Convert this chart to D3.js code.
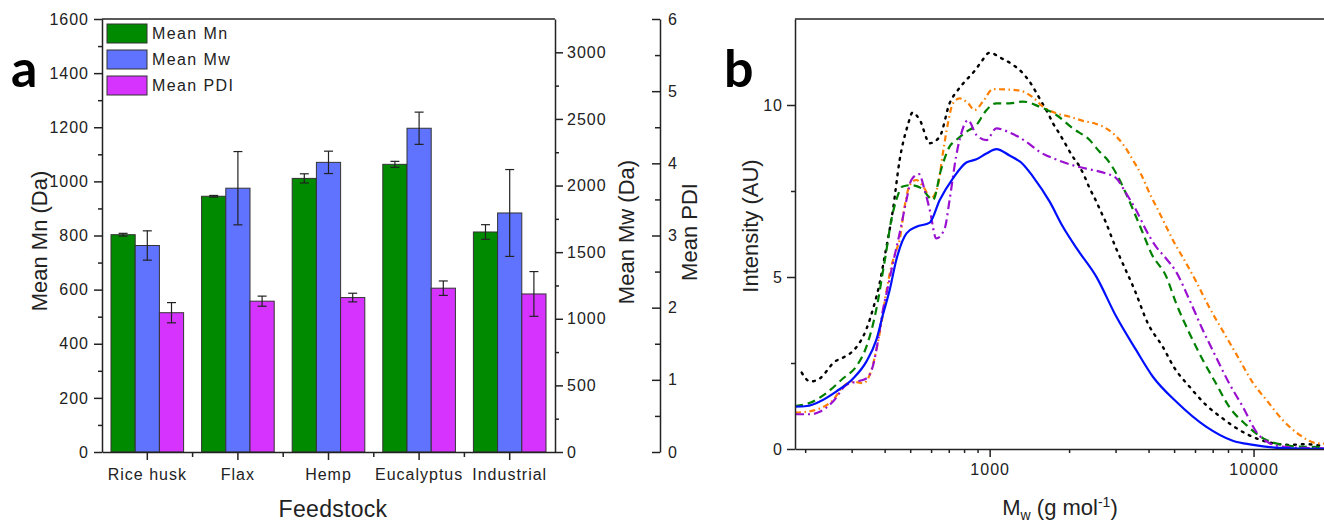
<!DOCTYPE html>
<html>
<head>
<meta charset="utf-8">
<script src="https://cdn.jsdelivr.net/npm/d3@7"></script>
<style>
  body { margin: 0; background: #fff; }
  text { font-family: "Liberation Sans", Arial, sans-serif; fill: #222; }
  .axis path, .axis line { stroke: #222; stroke-width: 1.5; }
  .axis text { font-size: 16px; letter-spacing: 1px; }
</style>
</head>
<body>
<script>
// ---- panel a data ----
const feedstocks = ["Rice husk", "Flax", "Hemp", "Eucalyptus", "Industrial"];
const mnMean = [803, 945, 1011, 1063, 813];
const mnErr = [5, 3, 17, 11, 27];
const mwMean = [1550, 1980, 2174, 2430, 1794];
const mwErr = [110, 275, 84, 121, 326];
const pdiMean = [1.93, 2.09, 2.14, 2.27, 2.19];
const pdiErr = [0.14, 0.07, 0.06, 0.10, 0.31];
const legendLabels = ["Mean Mn", "Mean Mw", "Mean PDI"];
const barColors = ["#008a00", "#5f73ff", "#d633ff"];

const mnTicks = [0, 200, 400, 600, 800, 1000, 1200, 1400, 1600];
const mwTicks = [0, 500, 1000, 1500, 2000, 2500, 3000];
const pdiTicks = [0, 1, 2, 3, 4, 5, 6];

// ---- panel b data: [Mw (g/mol), intensity] ----
const blueSolid = [[183,1.23],[203,1.25],[227,1.38],[262,1.67],[304,2.05],[341,2.54],[372,3.17],[394,3.9],[418,4.62],[443,5.5],[484,6.27],[528,6.46],[593,6.58],[647,7.24],[726,7.87],[816,8.33],[891,8.42],[972,8.59],[1060,8.72],[1190,8.53],[1337,8.28],[1459,7.92],[1688,7.19],[1895,6.46],[2160,5.78],[2535,5.01],[3018,3.85],[3587,2.88],[4155,2.10],[5087,1.38],[6605,0.65],[8340,0.24],[9970,0.12],[12000,0.04],[15000,0.01],[20000,0]];
const blackDotted = [[194,2.22],[209,1.96],[227,2.05],[259,2.54],[282,2.68],[308,2.90],[341,3.48],[362,4.09],[384,4.86],[400,5.59],[430,6.95],[456,8.40],[490,9.42],[510,9.78],[544,9.56],[593,8.89],[647,9.08],[705,10.05],[759,10.44],[816,10.73],[877,10.99],[930,11.26],[1000,11.52],[1107,11.36],[1208,11.2],[1318,10.97],[1417,10.68],[1494,10.39],[1570,10.10],[1664,9.76],[1737,9.47],[1841,9.16],[1939,8.86],[2052,8.53],[2180,8.24],[2290,7.92],[2392,7.58],[2520,7.24],[2632,6.92],[2748,6.61],[2977,5.93],[3107,5.6],[3543,4.62],[3978,3.65],[4529,2.97],[5020,2.35],[5722,1.81],[6605,1.28],[7635,0.89],[8850,0.55],[10240,0.31],[11850,0.17],[13700,0.12],[15840,0.14],[18000,0.1],[20000,0.08]];
const orangeDashDot = [[183,1.06],[210,1.10],[227,1.18],[255,1.42],[278,1.81],[304,1.96],[331,1.91],[355,2.25],[372,2.88],[389,3.65],[407,4.62],[424,5.30],[443,5.78],[456,6.08],[476,7.04],[498,7.67],[528,7.82],[560,7.63],[601,7.29],[637,7.67],[665,8.60],[695,9.47],[726,10.05],[770,10.19],[828,10.05],[877,9.85],[943,10.10],[1029,10.46],[1157,10.45],[1299,10.42],[1459,10.22],[1592,9.95],[1789,9.76],[2010,9.66],[2256,9.54],[2535,9.45],[2764,9.32],[2977,9.13],[3250,8.79],[3490,8.40],[3755,7.97],[4038,7.43],[4344,6.95],[4670,6.46],[5022,5.98],[5367,5.6],[6066,4.86],[6770,4.14],[7880,3.26],[8850,2.59],[9970,1.91],[11200,1.42],[12900,0.84],[14940,0.41],[17300,0.17],[20000,0.15]];
const greenDashed = [[183,1.25],[210,1.35],[240,1.62],[278,2.05],[313,2.41],[341,2.97],[362,3.65],[378,4.33],[393,5.11],[403,5.6],[424,6.66],[443,7.24],[468,7.63],[505,7.67],[551,7.58],[610,7.24],[654,8.11],[705,8.79],[746,8.98],[816,9.22],[891,9.42],[972,9.85],[1060,10.05],[1190,10.05],[1337,10.10],[1546,9.95],[1789,9.71],[2067,9.32],[2393,8.98],[2610,8.64],[2764,8.45],[3018,8.01],[3240,7.53],[3543,6.85],[3810,6.27],[4096,5.69],[4670,5.01],[5087,4.24],[5720,3.36],[6422,2.59],[7200,1.91],[8080,1.23],[9380,0.70],[10880,0.31],[12900,0.12],[14940,0.07],[20000,0.05]];
const purpleDashDot = [[183,1.01],[210,1.01],[227,1.08],[255,1.38],[286,1.86],[313,1.96],[341,2.05],[362,2.44],[378,3.17],[394,4.04],[407,4.53],[430,5.40],[456,6.27],[484,7.24],[505,7.82],[540,7.99],[567,7.53],[593,6.95],[628,6.12],[676,6.42],[705,7.24],[746,8.50],[781,9.18],[828,9.56],[891,9.13],[972,8.98],[1060,9.32],[1190,9.20],[1378,8.93],[1546,8.64],[1841,8.38],[2150,8.21],[2460,8.11],[2764,8.01],[3018,7.87],[3290,7.43],[3587,6.95],[3910,6.37],[4270,5.88],[4600,5.59],[5087,5.15],[5720,4.33],[6422,3.46],[7200,2.68],[8080,1.91],[9100,1.23],[10240,0.50],[11500,0.17],[12900,0.07],[15840,0.03],[20000,0.02]];

const intensityTicks = [0, 5, 10];
const mwLogTicks = [1000, 10000];

const svg = d3.select("body").append("svg")
  .attr("width", 1324).attr("height", 526);

// ================= panel a =================
const A = { left: 102, right: 555, top: 19, bottom: 452 };

const x = d3.scaleBand().domain(feedstocks).range([A.left, A.right]);
const x1 = d3.scaleBand().domain([0, 1, 2]).range([9, x.bandwidth() - 9]);
const yMn = d3.scaleLinear().domain([0, 1600]).range([A.bottom, A.top]);
const yMw = d3.scaleLinear().domain([0, 3250]).range([A.bottom, A.top]);
const yPdi = d3.scaleLinear().domain([0, 6]).range([A.bottom, A.top]);
const intFmt = d3.format("d");

const series = [
  { mean: mnMean, err: mnErr, y: yMn },
  { mean: mwMean, err: mwErr, y: yMw },
  { mean: pdiMean, err: pdiErr, y: yPdi }
];

const ga = svg.append("g");

series.forEach((s, k) => {
  ga.append("g").selectAll("rect")
    .data(feedstocks).enter()
    .append("rect")
    .attr("x", d => x(d) + x1(k))
    .attr("y", (d, i) => s.y(s.mean[i]))
    .attr("width", x1.bandwidth())
    .attr("height", (d, i) => A.bottom - s.y(s.mean[i]))
    .attr("fill", barColors[k])
    .attr("stroke", "#333").attr("stroke-width", 1);
});

// error bars
series.forEach((s, k) => {
  const g = ga.append("g").attr("stroke", "#222").attr("stroke-width", 1.2);
  feedstocks.forEach((d, i) => {
    const cx = x(d) + x1(k) + x1.bandwidth() / 2;
    const hi = s.y(s.mean[i] + s.err[i]), lo = s.y(s.mean[i] - s.err[i]);
    g.append("line").attr("x1", cx).attr("x2", cx).attr("y1", hi).attr("y2", lo);
    g.append("line").attr("x1", cx - 4.5).attr("x2", cx + 4.5).attr("y1", hi).attr("y2", hi);
    g.append("line").attr("x1", cx - 4.5).attr("x2", cx + 4.5).attr("y1", lo).attr("y2", lo);
  });
});

// top border
ga.append("line").attr("x1", A.left).attr("x2", A.right).attr("y1", A.top).attr("y2", A.top)
  .attr("stroke", "#222").attr("stroke-width", 1.5);

// left Mn axis
ga.append("g").attr("class", "axis").attr("transform", `translate(${A.left},0)`)
  .call(d3.axisLeft(yMn).tickValues(d3.range(100, 1600, 200)).tickSize(4).tickFormat(""))
  .call(g => g.select(".domain").remove());
ga.append("g").attr("class", "axis").attr("transform", `translate(${A.left},0)`)
  .call(d3.axisLeft(yMn).tickValues(mnTicks).tickSize(8).tickSizeOuter(0).tickPadding(5).tickFormat(intFmt));

// bottom category axis
ga.append("g").attr("class", "axis").attr("transform", `translate(0,${A.bottom})`)
  .call(d3.axisBottom(x).tickSize(8).tickSizeOuter(0).tickPadding(9));
ga.append("g").attr("stroke", "#222").attr("stroke-width", 1.5)
  .selectAll("line").data(feedstocks.slice(1)).enter().append("line")
  .attr("x1", d => x(d)).attr("x2", d => x(d))
  .attr("y1", A.bottom).attr("y2", A.bottom + 5);

// Mw right axis
ga.append("g").attr("class", "axis").attr("transform", `translate(${A.right},0)`)
  .call(d3.axisRight(yMw).tickValues(d3.range(250, 3250, 500)).tickSize(4).tickFormat(""))
  .call(g => g.select(".domain").remove());
ga.append("g").attr("class", "axis").attr("transform", `translate(${A.right},0)`)
  .call(d3.axisRight(yMw).tickValues(mwTicks).tickSize(8).tickSizeOuter(0).tickPadding(4).tickFormat(intFmt));

// PDI axis (ticks pointing left, labels right)
ga.append("g").attr("class", "axis").attr("transform", "translate(660,0)")
  .call(d3.axisRight(yPdi).tickValues(d3.range(0.5, 6, 1)).tickSize(-5).tickFormat(""))
  .call(g => g.select(".domain").remove());
ga.append("g").attr("class", "axis").attr("transform", "translate(660,0)")
  .call(d3.axisRight(yPdi).tickValues(pdiTicks).tickSize(-8).tickSizeOuter(0).tickPadding(8).tickFormat(intFmt));

// legend
const leg = ga.append("g").attr("transform", "translate(107,24)");
legendLabels.forEach((t, k) => {
  leg.append("rect").attr("x", 0).attr("y", k * 26).attr("width", 40).attr("height", 19)
    .attr("fill", barColors[k]).attr("stroke", "#333").attr("stroke-width", 1);
  leg.append("text").attr("x", 45).attr("y", k * 26 + 15)
    .style("font-size", "16px").style("letter-spacing", "1.4px").text(t);
});

// titles
ga.append("text").attr("transform", "translate(47,241) rotate(-90)")
  .attr("text-anchor", "middle").style("font-size", "22px")
  .text("Mean Mn (Da)");
ga.append("text").attr("x", 333).attr("y", 517)
  .attr("text-anchor", "middle").style("font-size", "23px").style("letter-spacing", "0.3px")
  .text("Feedstock");
ga.append("text").attr("transform", "translate(634,232) rotate(-90)")
  .attr("text-anchor", "middle").style("font-size", "22px")
  .text("Mean Mw (Da)");
ga.append("text").attr("transform", "translate(697,232) rotate(-90)")
  .attr("text-anchor", "middle").style("font-size", "22px")
  .text("Mean PDI");
ga.append("text").attr("x", 11).attr("y", 87)
  .style("font-family", "Lato, 'Open Sans', sans-serif").style("font-weight", "bold")
  .style("font-size", "52px").style("fill", "#000").text("a");

// ================= panel b =================
const B = { left: 795, right: 1324, top: 19, bottom: 449 };
const xb = d3.scaleLog().domain([183, 20000]).range([B.left, 1333]);
const yb = d3.scaleLinear().domain([0, 12.5]).range([B.bottom, B.top]);

const gb = svg.append("g");
gb.append("clipPath").attr("id", "clipb").append("rect")
  .attr("x", B.left).attr("y", B.top).attr("width", B.right - B.left).attr("height", B.bottom - B.top);

const line = d3.line().x(d => xb(d[0])).y(d => yb(d[1])).curve(d3.curveMonotoneX);

const curves = [
  { data: blackDotted, color: "#000", dash: "1.8,6", cap: "round", w: 2.4 },
  { data: orangeDashDot, color: "#ff7f00", dash: "6,3.5,1.5,3.5", cap: "butt", w: 2.2 },
  { data: greenDashed, color: "#008000", dash: "8,5", cap: "butt", w: 2.2 },
  { data: purpleDashDot, color: "#9a10d0", dash: "9,4,2,4", cap: "butt", w: 2.2 },
  { data: blueSolid, color: "#0010ff", dash: null, cap: "butt", w: 2.2 }
];
gb.append("g").attr("clip-path", "url(#clipb)")
  .selectAll("path").data(curves).enter().append("path")
  .attr("d", d => line(d.data))
  .attr("fill", "none")
  .attr("stroke", d => d.color)
  .attr("stroke-width", d => d.w)
  .attr("stroke-linecap", d => d.cap)
  .attr("stroke-dasharray", d => d.dash);

// top border
gb.append("line").attr("x1", B.left).attr("x2", B.right).attr("y1", B.top).attr("y2", B.top)
  .attr("stroke", "#222").attr("stroke-width", 1.5);

// y axis
gb.append("g").attr("class", "axis").attr("transform", `translate(${B.left},0)`)
  .call(d3.axisLeft(yb).tickValues([2.5, 7.5]).tickSize(4).tickFormat(""))
  .call(g => g.select(".domain").remove());
gb.append("g").attr("class", "axis").attr("transform", `translate(${B.left},0)`)
  .call(d3.axisLeft(yb).tickValues(intensityTicks).tickSize(8).tickSizeOuter(0).tickPadding(4).tickFormat(intFmt));

// x log axis
const minorX = [200, 300, 400, 500, 600, 700, 800, 900, 2000, 3000, 4000, 5000, 6000, 7000, 8000, 9000];
gb.append("g").attr("class", "axis").attr("transform", `translate(0,${B.bottom})`)
  .call(d3.axisBottom(xb).tickValues(minorX).tickSize(4).tickFormat(""))
  .call(g => g.select(".domain").remove());
gb.append("g").attr("class", "axis").attr("transform", `translate(0,${B.bottom})`)
  .call(d3.axisBottom(xb).tickValues(mwLogTicks).tickSize(8).tickSizeOuter(0).tickPadding(7).tickFormat(intFmt));

// titles
gb.append("text").attr("transform", "translate(758,226) rotate(-90)")
  .attr("text-anchor", "middle").style("font-size", "22px")
  .text("Intensity (AU)");
const xt = gb.append("text").attr("x", 1060).attr("y", 515).attr("text-anchor", "middle")
  .style("font-size", "22px");
xt.append("tspan").text("M");
xt.append("tspan").attr("dy", 5).style("font-size", "14px").text("w");
xt.append("tspan").attr("dy", -5).text(" (g mol");
xt.append("tspan").attr("dy", -8).style("font-size", "14px").text("-1");
xt.append("tspan").attr("dy", 8).text(")");
gb.append("text").attr("x", 724).attr("y", 87)
  .style("font-family", "Lato, 'Open Sans', sans-serif").style("font-weight", "bold")
  .style("font-size", "52px").style("fill", "#000").text("b");
</script>
</body>
</html>
